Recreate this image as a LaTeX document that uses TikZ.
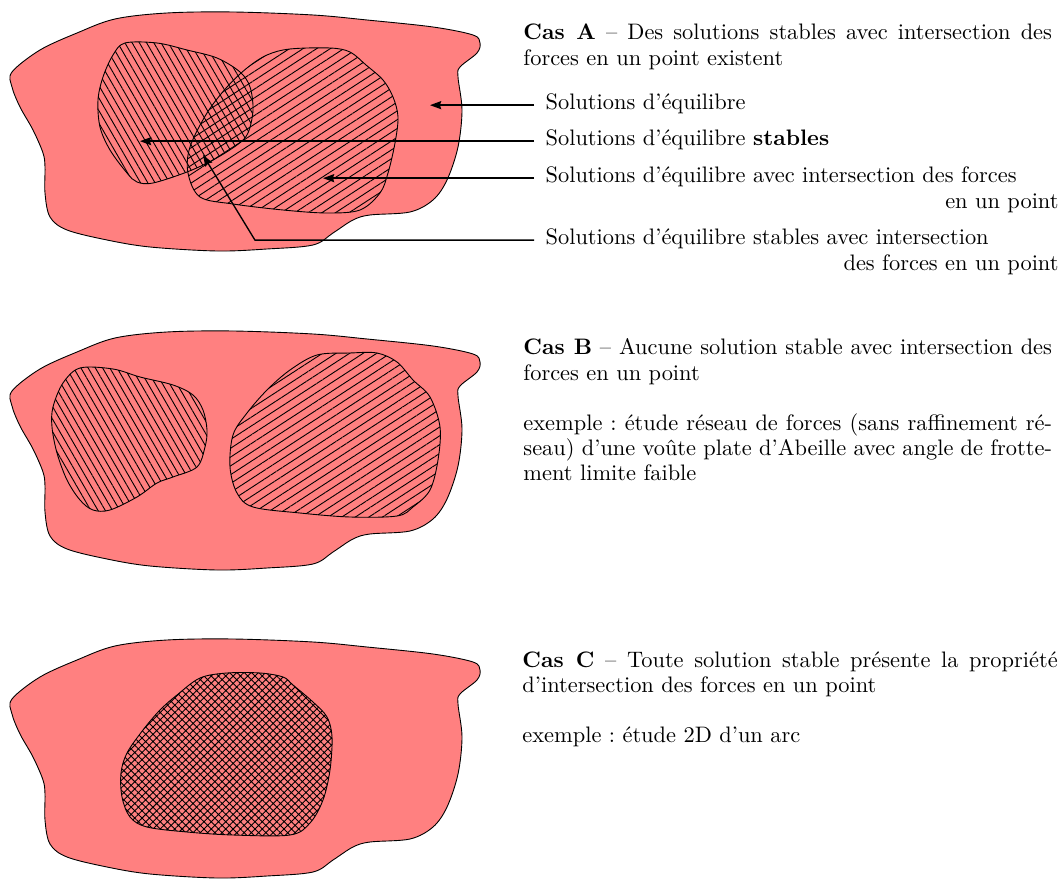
\documentclass[tikz,border=0pt]{standalone}
\usepackage{tikz}
\usetikzlibrary{patterns.meta,arrows.meta}

\tikzset{
  fond/.style={fill=red!50,draw=black},
  hachG/.style={draw=black,pattern={Lines[angle=-60,distance=2.8pt,line width=.4pt]}},
  hachD/.style={draw=black,pattern={Lines[angle=33,distance=3.3pt,line width=.4pt]}},
  hachX/.style={draw=black,pattern={Hatch[angle=45,distance=2.3pt,line width=.4pt]}},
}

\begin{document}
\frenchspacing
\begin{tikzpicture}[x=0.4465pt,y=-0.4465pt,>={Stealth[length=5pt,width=3.6pt,inset=.6pt]},
  texte/.style={inner sep=0pt,anchor=base west,align=justify,font=\fontsize{10}{11.2}\selectfont},
  legende/.style={inner xsep=5pt,inner ysep=0pt,anchor=base west,text width=229pt,align=left,font=\fontsize{10}{11.2}\selectfont},
  fleche/.style={->,semithick}]
\useasboundingbox (0,0) rectangle (1064,880);

\foreach \dy in {0,319,627}
  \filldraw[fond,shift={(0,\dy)}] plot[smooth cycle,tension=.55] coordinates{
    (12,72) (40,50) (77,33) (115,19) (167,13) (233,12) (313,15) (367,20) (433,27)
    (473,35) (480,43) (477,53) (460,67) (458,77) (462,110) (458,147) (447,180)
    (433,200) (410,212) (370,215) (353,220) (333,233) (313,245) (267,249) (217,251)
    (150,247) (107,240) (67,230) (50,217) (45,193) (45,167) (43,153) (33,130)
    (20,107) (12,87)};

% cas A
\filldraw[hachG] plot[smooth cycle,tension=.55] coordinates{
  (125,43) (157,43) (187,50) (217,58) (240,72) (250,87) (253,110) (248,133)
  (237,145) (213,160) (187,172) (153,183) (137,182) (127,173) (110,150)
  (100,127) (98,100) (103,77) (113,55)};
\filldraw[hachD] plot[smooth cycle,tension=.55] coordinates{
  (247,68) (267,55) (290,49) (330,48) (350,52) (366,65) (383,80) (393,97)
  (398,117) (395,143) (388,173) (380,193) (360,210) (327,213) (283,210)
  (233,204) (200,197) (188,173) (190,147) (207,113) (227,87)};

% cas B
\filldraw[hachG] plot[smooth cycle,tension=.55] coordinates{
  (80,368) (113,369) (140,377) (173,385) (193,395) (203,410) (207,430)
  (205,447) (197,467) (173,477) (157,483) (137,497) (110,510) (93,510)
  (80,500) (67,480) (57,453) (52,427) (53,407) (63,383)};
\filldraw[hachD] plot[smooth cycle,tension=.55] coordinates{
  (233,435) (247,413) (267,390) (290,370) (317,355) (350,353) (377,353)
  (397,362) (413,380) (430,397) (440,427) (438,460) (430,490) (413,507)
  (397,516) (350,517) (300,513) (253,507) (237,493) (230,467)};

% cas C
\filldraw[hachX] plot[smooth cycle,tension=.55] coordinates{
  (127,753) (143,730) (160,710) (177,695) (200,678) (227,673) (260,673)
  (283,677) (293,685) (313,702) (327,717) (332,737) (330,770) (323,800)
  (310,823) (290,835) (233,835) (187,832) (147,827) (130,817) (122,797)
  (121,773)};

\node[texte,text width=236pt] (casA) at (523,40)
  {\textbf{Cas A} – Des solutions stables avec intersection des forces en un point existent};
\node[texte,text width=236pt] (casB) at (523,355)
  {\textbf{Cas B} – Aucune solution stable avec intersection des forces en un point\\[11.2pt]
   exemple : étude réseau de forces (sans raffinement ré-\linebreak seau) d’une voûte plate
   d’Abeille avec angle de frotte-\linebreak ment limite faible};
\node[texte,text width=239pt] (casC) at (522,667)
  {\textbf{Cas C} – Toute solution stable présente la propriété d’intersection des forces en un point\\[11.2pt]
   exemple : étude 2D d’un arc};

\node[legende] (l1) at (534,110) {Solutions d’équilibre};
\node[legende] (l2) at (534,146) {Solutions d’équilibre \textbf{stables}};
\node[legende] (l3) at (534,183) {Solutions d’équilibre avec intersection des forces\\\mbox{}\hfill en un point};
\node[legende] (l4) at (534,245) {Solutions d’équilibre stables avec intersection\\\mbox{}\hfill des forces en un point};

\coordinate (t1) at (430,105);
\coordinate (t2) at (140,141);
\coordinate (t3) at (323,178);
\coordinate (c4) at (255,240);
\coordinate (t4) at (203,155);

\draw[fleche] ([yshift=.5ex]l1.base west) coordinate (d1) -- (t1 |- d1);
\draw[fleche] ([yshift=.5ex]l2.base west) coordinate (d2) -- (t2 |- d2);
\draw[fleche] ([yshift=.5ex]l3.base west) coordinate (d3) -- (t3 |- d3);
\draw[fleche] ([yshift=.5ex]l4.base west) coordinate (d4) -- (c4 |- d4) -- (t4);
\end{tikzpicture}
\end{document}
